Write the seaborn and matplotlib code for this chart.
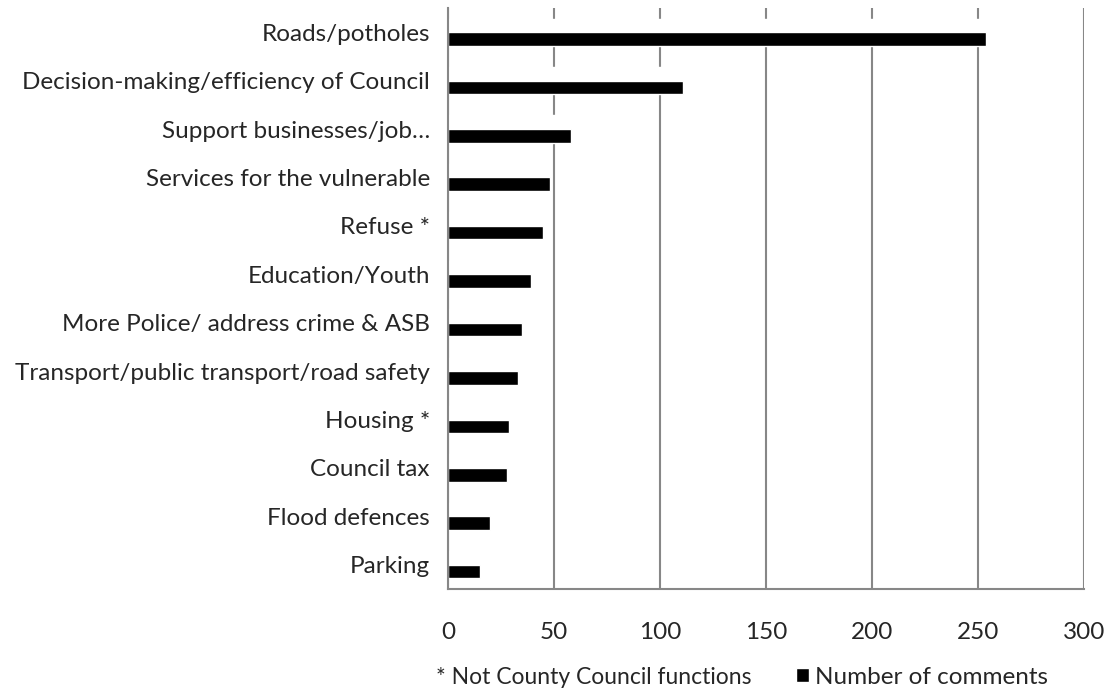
import pandas as pd
import matplotlib.pyplot as plt
import seaborn as sns
import numpy as np
from matplotlib.patches import Patch

sns.set_style("white")
plt.rcParams['font.family'] = ['Lato', 'DejaVu Sans']

# Data
categories = [
    "Roads/potholes",
    "Decision-making/efficiency of Council",
    "Support businesses/job\u2026",
    "Services for the vulnerable",
    "Refuse *",
    "Education/Youth",
    "More Police/ address crime & ASB",
    "Transport/public transport/road safety",
    "Housing *",
    "Council tax",
    "Flood defences",
    "Parking",
]
comments = [254, 111, 58, 48, 45, 39, 35, 33, 29, 28, 20, 15]
x_ticks = [0, 50, 100, 150, 200, 250, 300]
note_label = "* Not County Council functions"
series_label = "Number of comments"

# the note is an empty series in the original chart, it only takes a slot
df = pd.concat([
    pd.DataFrame({"category": categories, "value": np.nan, "series": note_label}),
    pd.DataFrame({"category": categories, "value": comments, "series": series_label}),
])

grid_col = "#878787"
fs = 17.5

fig = plt.figure(figsize=(11.09, 6.92), dpi=100)
ax = fig.add_axes([448 / 1109, 1 - 589 / 692, (1084 - 448) / 1109, (589 - 8) / 692])

sns.barplot(x="value", y="category", hue="series", data=df, order=categories,
            hue_order=[note_label, series_label],
            palette={note_label: "white", series_label: "black"},
            width=0.56, dodge=True, orient="h", ax=ax, saturation=1, legend=False)

ax.set_xlim(0, 300)
ax.set_ylim(len(categories) - 0.5, -0.5)
ax.set_xticks(x_ticks)
ax.set_xlabel("")
ax.set_ylabel("")

ax.grid(axis="x", color=grid_col, linewidth=1.5)
ax.set_axisbelow(True)
for side in ["top", "right"]:
    ax.spines[side].set_visible(False)
for side in ["left", "bottom"]:
    ax.spines[side].set_color(grid_col)
    ax.spines[side].set_linewidth(1.5)

# tick marks between categories on the y axis
ax.set_yticks(np.arange(-0.5, len(categories), 1), minor=True)
ax.tick_params(axis="y", which="major", length=0, labelsize=fs, pad=13)
ax.tick_params(axis="y", which="minor", length=6, width=1.5, color=grid_col, direction="out")
ax.tick_params(axis="x", which="major", length=7, width=1.5, color=grid_col,
               direction="out", labelsize=fs, pad=17)

# footer: note + legend
fig.text(436 / 1109, 1 - 677 / 692, note_label,
         ha="left", va="center", fontsize=16.5)
fig.legend(handles=[Patch(facecolor="black", label=series_label)],
           loc="center left", bbox_to_anchor=(796 / 1109, 1 - 677 / 692),
           frameon=False, fontsize=fs, handlelength=0.55, handleheight=0.55,
           handletextpad=0.25, borderpad=0, borderaxespad=0)

fig.savefig("out.png", dpi=100)
